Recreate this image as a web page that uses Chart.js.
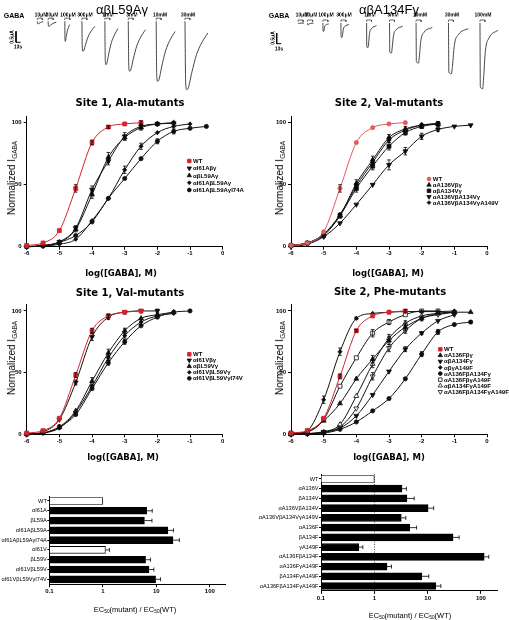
<!DOCTYPE html>
<html>
<head>
<meta charset="utf-8">
<script src="https://cdn.jsdelivr.net/npm/chart.js@4.4.0/dist/chart.umd.min.js"></script>
<style>
  body { margin: 0; background: #fff; width: 509px; height: 620px; position: relative; overflow: hidden;
         font-family: 'Liberation Sans', Arial, sans-serif; color: #000; }
  .box { position: absolute; }
  .t { position: absolute; white-space: nowrap; line-height: 1; transform: translate(-50%, -50%); will-change: transform; }
  .rot { transform: translate(-50%, -50%) rotate(-90deg); }
  .tiny { font-size: 10px; font-weight: bold; transform: translate(-50%, -50%) scale(0.5); }
  .tiny.rot { transform: translate(-50%, -50%) rotate(-90deg) scale(0.5); }
  .ttl { font-family: 'DejaVu Sans', sans-serif; font-weight: bold; }
  sub { font-size: 65%; vertical-align: -0.25em; line-height: 0; }
</style>
</head>
<body>
<script>
// ---- trace panels (oocyte recordings) ----
const concLeft = ['10μM', '30μM', '100μM', '300μM', '1mM', '3mM', '10mM', '30mM'];
const leftStart = [83, 107, 144, 182, 233, 285, 347, 411];      // s
const leftDur = [13, 18, 11, 29, 29, 38, 42, 51];               // s
const leftPeak = [-0.12, -0.23, -0.91, -1.36, -1.97, -2.27, -2.73, -3.11]; // μA

const concRight = ['10μM', '30μM', '100μM', '300μM', '1mM', '3mM', '10mM', '30mM', '100mM'];
const rightStart = [107, 128, 162, 202, 259, 310, 369, 441, 511];
const rightDur = [13, 13, 13, 18, 22, 29, 36, 44, 40];
const rightPeak = [-0.02, -0.08, -0.39, -0.67, -1.15, -1.40, -1.87, -2.37, -3.07];

// normalised current shape: [fraction of duration, fraction of peak]
const leftShape = [[0, 0], [0.03, 0.9], [0.08, 1], [0.15, 0.97], [0.29, 0.76], [0.5, 0.49], [0.72, 0.32], [1, 0.17]];
const rightShape = [[0, 0], [0.02, 0.97], [0.15, 1], [0.2, 0.85], [0.3, 0.43], [0.5, 0.23], [1, 0.11]];
const appDur = 11;                       // s, GABA application bar
const scaleBarT = 10, scaleBarI = 0.5;   // 10 s, 0.5 μA
const leftBarAt = [35.6, -0.955];
const rightBarAt = [59.3, -0.967];

// ---- concentration-response curves ----
const doseX = [-6, -5.5, -5, -4.5, -4, -3.5, -3, -2.5, -2, -1.5, -1, -0.5];
const doseTicks = [-6, -5, -4, -3, -2, -1, 0];
const normTicks = [0, 50, 100];

// Site 1, Ala-mutants
const ala1Names = ['WT', 'αI61Aβγ', 'αβL59Aγ', 'αI61AβL59Aγ', 'αI61AβL59AγI74A'];
const ala1WT = [1, 3, 13, 47, 84, 96.5, 99, 100];
const ala1WTErr = [0, 0, 0, 3, 2, 1, 0, 1.5];
const ala1I61A = [0, 1, 4, 15, 46, 69, 89, 97, 99, 99.5];
const ala1I61AErr = [0, 0, 0, 2, 3, 3, 3, 2, 1.5, 1.5];
const ala1L59A = [0, 1, 3.5, 14, 42, 72, 88, 96, 99, 100];
const ala1L59AErr = [0, 0, 0, 2, 3, 4, 2, 2, 1, 0];
const ala1Double = [0, 0.5, 2, 6, 21, 39, 62, 81, 92, 97, 99];
const ala1DoubleErr = [0, 0, 0, 0, 0, 0, 3, 2.5, 0, 0, 0];
const ala1Triple = [0, 0.5, 3.5, 9, 20, 39, 55, 71, 85, 93, 95.5, 97];
const ala1TripleErr = [0, 0, 0, 0, 0, 0, 0, 0, 2, 2, 0, 0];

// Site 2, Val-mutants
const val2Names = ['WT', 'αA136Vβγ', 'αβA134Vγ', 'αA136VβA134Vγ', 'αA136VβA134VγA149V'];
const val2WT = [1, 3, 12, 47, 84, 96, 99, 100];
const val2WTErr = [0, 0, 0, 3, 0, 0, 0, 0];
const val2A136V = [1, 3, 10, 25, 51, 70, 88, 95, 98, 99];
const val2A136VErr = [0, 0, 0, 0, 3, 3, 2.5, 2, 1.5, 1.5];
const val2A134V = [1, 3, 9, 25, 47, 65, 81, 92, 97, 99];
const val2A134VErr = [0, 0, 0, 2, 3, 3, 3, 2, 1.5, 2];
const val2Double = [0, 2, 8, 19, 34, 50, 66, 77, 89, 94.5, 97, 98];
const val2DoubleErr = [0, 0, 0, 0, 0, 0, 4, 3, 2.5, 1.5, 0, 0];
const val2Triple = [1, 3, 10, 26, 49, 68, 86, 94, 98, 99.5];
const val2TripleErr = [0, 0, 0, 0, 2, 2, 2, 0, 0, 0];

// Site 1, Val-mutants
const val1Names = ['WT', 'αI61Vβγ', 'αβL59Vγ', 'αI61VβL59Vγ', 'αI61VβL59VγI74V'];
const val1WT = [1, 3, 13, 48, 84, 96, 99, 100];
const val1WTErr = [0, 0, 0, 2, 2, 1.5, 0, 0];
const val1I61V = [0, 2, 12, 42, 79, 95, 99, 100, 100];
const val1I61VErr = [0, 0, 0, 2, 3, 2, 0, 0, 1.5];
const val1L59V = [0, 1, 6, 19, 43, 66, 84, 94, 97, 99];
const val1L59VErr = [0, 0, 0, 0, 3, 3, 2, 0, 0, 0];
const val1Double = [0, 1, 5, 18, 39, 62, 80, 91, 96, 98];
const val1DoubleErr = [0, 0, 0, 0, 0, 2, 2, 2, 0, 0];
const val1Triple = [0, 1, 6, 16, 37, 58, 75, 88, 95, 99, 100];
const val1TripleErr = [0, 0, 1.5, 0, 0, 2, 2, 0, 0, 0, 0];

// Site 2, Phe-mutants
const phe2Names = ['WT', 'αA136Fβγ', 'αβA134Fγ', 'αβγA149F', 'αA136FβA134Fγ', 'αA136FβγA149F', 'αβA134FγA149F', 'αA136FβA134FγA149F'];
const phe2WT = [1, 3, 13, 47, 84, 96, 99, 100];
const phe2WTErr = [0, 0, 0, 2, 1, 0, 0, 1];
const phe2A136F = [0, 2, 11, 25, 45, 61, 76, 87, 94, 98, 99, 99];
const phe2A136FErr = [0, 0, 0, 0, 0, 3, 3, 3, 2, 0, 0, 0];
const phe2A134F = [0, 0.5, 2, 5, 15, 32, 51, 69, 82, 92, 97];
const phe2A134FErr = [0, 0, 0, 0, 0, 0, 0, 2, 1, 0, 0];
const phe2A149F = [0, 3, 28, 67, 94, 98, 99, 99.5, 99.5, 99.5, 100];
const phe2A149FErr = [0, 0, 3, 3, 1, 0, 0, 0, 0, 0, 0];
const phe2Double = [0, 0.5, 1, 4, 10, 19, 29, 45, 65, 83, 89, 91];
const phe2DoubleErr = [0, 0, 0, 0, 0, 0, 0, 0, 2, 2, 0, 1];
const phe2A136FA149F = [1, 2, 12, 39, 62, 82, 91, 97, 100, 100];
const phe2A136FA149FErr = [0, 0, 0, 0, 0, 3, 2, 0, 0, 0];
const phe2A134FA149F = [0, 0.5, 2, 8, 31, 57, 78, 90, 96, 98, 99];
const phe2A134FA149FErr = [0, 0, 0, 0, 0, 3, 3, 2, 0, 0, 0];
const phe2Triple = [0, 0.5, 1.5, 6, 21, 47, 70, 84, 94, 97, 99];
const phe2TripleErr = [0, 0, 0, 0, 0, 3, 3, 2, 0, 0, 0];

// ---- EC50 ratio bars ----
const barTicks = [0.1, 1, 10, 100];
const site1Labels = ['WT', 'αI61A', 'βL59A', 'αI61AβL59A', 'αI61AβL59AγI74A', 'αI61V', 'βL59V', 'αI61VβL59V', 'αI61VβL59VγI74V'];
const site1Ratio = [1, 6.6, 6.0, 16.5, 20.5, 1.12, 6.3, 7.3, 9.7];
const site1ErrHigh = [0, 8.4, 8.3, 21, 27, 1.33, 7.8, 9.0, 12];
const site2Labels = ['WT', 'αA136V', 'βA134V', 'αA136VβA134V', 'αA136VβA134VγA149V', 'αA136F', 'βA134F', 'γA149F',
                     'αA136FβA134F', 'αA136FγA149F', 'βA134FγA149F', 'αA136FβA134FγA149F'];
const site2Ratio = [1, 3.3, 4.1, 10.2, 3.2, 4.6, 30, 0.51, 115, 1.73, 7.8, 14.2];
const site2ErrHigh = [0, 4.0, 5.6, 13, 3.9, 6.2, 39, 0.61, 140, 2.1, 10.5, 17.7];

// ---------------------------------------------------------------
const RED = '#d3232b', RED2 = '#e35b5b', INK = '#111';
const FONT = "'Liberation Sans', Arial, sans-serif";
Chart.defaults.font.family = FONT;
Chart.defaults.color = '#000';
Chart.defaults.animation = false;

function mount(box) {
  const d = document.createElement('div');
  d.className = 'box';
  d.style.left = box[0] + 'px'; d.style.top = box[1] + 'px';
  const c = document.createElement('canvas');
  c.width = box[2]; c.height = box[3];
  d.appendChild(c);
  document.body.appendChild(d);
  return c;
}

function txt(html, x, y, style, cls) {
  const d = document.createElement('div');
  d.className = 't' + (cls ? ' ' + cls : '');
  d.style.left = x + 'px'; d.style.top = y + 'px';
  d.style.cssText += style || '';
  d.innerHTML = html;
  document.body.appendChild(d);
}

function marker(ctx, style, rot, r, x, y, fill, stroke) {
  ctx.save();
  ctx.translate(x, y);
  ctx.rotate((rot || 0) * Math.PI / 180);
  ctx.beginPath();
  if (style === 'circle') ctx.arc(0, 0, r, 0, Math.PI * 2);
  else if (style === 'rect') { const s = r * Math.SQRT1_2; ctx.rect(-s, -s, 2 * s, 2 * s); }
  else if (style === 'rectRot') { ctx.moveTo(0, -r); ctx.lineTo(r, 0); ctx.lineTo(0, r); ctx.lineTo(-r, 0); ctx.closePath(); }
  else { ctx.moveTo(0, -r); ctx.lineTo(r * 0.866, r * 0.5); ctx.lineTo(-r * 0.866, r * 0.5); ctx.closePath(); }
  ctx.fillStyle = fill; ctx.fill();
  ctx.lineWidth = 0.8; ctx.strokeStyle = stroke; ctx.stroke();
  ctx.restore();
}

const doseErrors = {
  id: 'doseErrors',
  afterDatasetsDraw(chart) {
    const { ctx, scales: { x, y } } = chart;
    ctx.save();
    ctx.strokeStyle = '#000'; ctx.lineWidth = 0.8;
    chart.data.datasets.forEach(ds => {
      ds.data.forEach(p => {
        if (!p.e) return;
        const px = x.getPixelForValue(p.x);
        const y1 = y.getPixelForValue(p.y + p.e), y2 = y.getPixelForValue(p.y - p.e);
        ctx.beginPath();
        ctx.moveTo(px, y1); ctx.lineTo(px, y2);
        ctx.moveTo(px - 1.8, y1); ctx.lineTo(px + 1.8, y1);
        ctx.moveTo(px - 1.8, y2); ctx.lineTo(px + 1.8, y2);
        ctx.stroke();
      });
    });
    ctx.restore();
  }
};

const prismLegend = {
  id: 'prismLegend',
  afterDraw(chart, args, opts) {
    if (opts.dx === undefined) return;
    const { ctx, chartArea } = chart;
    ctx.save();
    ctx.font = 'bold 6px ' + FONT;
    ctx.textBaseline = 'middle';
    chart.data.datasets.forEach((ds, i) => {
      const x = chartArea.left + opts.dx, y = chartArea.top + opts.dy + i * opts.gap;
      marker(ctx, ds.pointStyle, ds.pointRotation, ds.pointRadius * 0.9, x, y, ds.pointBackgroundColor, ds.pointBorderColor);
      ctx.fillStyle = '#000';
      ctx.fillText(ds.label, x + 3.8, y + 0.4);
    });
    ctx.restore();
  }
};

const barErrors = {
  id: 'barErrors',
  afterDatasetsDraw(chart) {
    const { ctx, scales: { x, y } } = chart;
    const ds = chart.data.datasets[0];
    ctx.save();
    ctx.strokeStyle = '#000'; ctx.lineWidth = 0.8;
    ds.data.forEach((v, i) => {
      const e = ds.errHigh[i];
      if (!e) return;
      const yy = y.getPixelForValue(i), x1 = x.getPixelForValue(v), x2 = x.getPixelForValue(e);
      ctx.beginPath();
      ctx.moveTo(x1, yy); ctx.lineTo(x2, yy);
      ctx.moveTo(x2, yy - 2); ctx.lineTo(x2, yy + 2);
      ctx.stroke();
    });
    ctx.restore();
  }
};

const refLine = {
  id: 'refLine',
  beforeDatasetsDraw(chart, args, opts) {
    if (opts.value === undefined) return;
    const { ctx, chartArea, scales: { x } } = chart;
    const px = Math.round(x.getPixelForValue(opts.value)) + 0.5;
    ctx.save();
    ctx.strokeStyle = '#444'; ctx.lineWidth = 1; ctx.setLineDash([1, 1.5]);
    ctx.beginPath(); ctx.moveTo(px, chartArea.top); ctx.lineTo(px, chartArea.bottom); ctx.stroke();
    ctx.restore();
  }
};

// box = [left, top, width, height], area = [left, top, right, bottom] (page px)
function frame(box, area) {
  return {
    yW: area[0] - box[0],
    xH: box[1] + box[3] - area[3],
    pad: { top: area[1] - box[1], right: box[0] + box[2] - area[2], left: 0, bottom: 0 }
  };
}

const axisGrid = { drawOnChartArea: false, drawTicks: true, tickLength: 3, color: '#000', lineWidth: 1 };
const axisBorder = { display: true, color: '#000', width: 1 };

// ---- trace charts ----
function traceSets(starts, durs, peaks, shape, bar) {
  const sets = starts.map((s, i) => ({
    data: shape.map(([f, a]) => ({ x: s + f * durs[i], y: a * peaks[i] })),
    borderColor: '#333', borderWidth: 0.9, pointRadius: 0, cubicInterpolationMode: 'monotone'
  }));
  starts.forEach(s => sets.push({
    data: [{ x: s, y: 0.06 }, { x: s, y: 0.14 }, { x: s + appDur, y: 0.14 }, { x: s + appDur, y: 0.06 }],
    borderColor: '#444', borderWidth: 0.8, pointRadius: 0, tension: 0
  }));
  sets.push({
    data: [{ x: bar[0], y: bar[1] + scaleBarI }, { x: bar[0], y: bar[1] }, { x: bar[0] + scaleBarT, y: bar[1] }],
    borderColor: '#000', borderWidth: 1, pointRadius: 0, tension: 0
  });
  return sets;
}

function traceChart(box, xMax, yMin, yMax, datasets) {
  return new Chart(mount(box), {
    type: 'line',
    data: { datasets },
    options: {
      responsive: false, animation: false,
      layout: { padding: 0 },
      plugins: { legend: { display: false }, tooltip: { enabled: false } },
      scales: {
        x: { type: 'linear', min: 0, max: xMax, display: false },
        y: { type: 'linear', min: yMin, max: yMax, display: false }
      }
    }
  });
}

const leftBox = [0, 0, 250, 95], rightBox = [250, 0, 259, 95];
const tl = traceChart(leftBox, 555.5, -3.35, 0.968, traceSets(leftStart, leftDur, leftPeak, leftShape, leftBarAt));
const tr = traceChart(rightBox, 575.5, -3.364, 1.075, traceSets(rightStart, rightDur, rightPeak, rightShape, rightBarAt));

// ---- dose-response charts ----
function series(names, styles, ysList, errList) {
  return ysList.map((ys, k) => {
    const st = styles[k];
    const data = [];
    ys.forEach((v, i) => { if (v !== null) data.push({ x: doseX[i], y: v, e: errList[k][i] }); });
    const r = { rect: 2.8, circle: 2.1, triangle: 2.8, rectRot: 2.1 }[st.shape];
    return {
      label: names[k], data,
      showLine: true, borderColor: st.line, borderWidth: 1, cubicInterpolationMode: 'monotone', fill: false,
      pointStyle: st.shape, pointRotation: st.rot || 0, pointRadius: r,
      pointBackgroundColor: st.fill, pointBorderColor: st.edge, pointBorderWidth: 0.8,
      clip: false
    };
  });
}

function doseChart(box, area, datasets, legend) {
  const f = frame(box, area);
  return new Chart(mount(box), {
    type: 'line',
    data: { datasets },
    options: {
      responsive: false, animation: false,
      layout: { padding: f.pad },
      plugins: { legend: { display: false }, tooltip: { enabled: false }, prismLegend: legend },
      scales: {
        x: {
          type: 'linear', min: -6, max: 0,
          afterBuildTicks: s => { s.ticks = doseTicks.map(v => ({ value: v })); },
          afterFit: s => { s.height = f.xH; },
          grid: axisGrid, border: axisBorder,
          ticks: { font: { size: 6, weight: 'bold' }, padding: 0.5, maxRotation: 0, color: '#000' }
        },
        y: {
          type: 'linear', min: 0, max: 105,
          afterBuildTicks: s => { s.ticks = normTicks.map(v => ({ value: v })); },
          afterFit: s => { s.width = f.yW; },
          grid: axisGrid, border: axisBorder,
          ticks: { font: { size: 6, weight: 'bold' }, padding: 2, color: '#000' }
        }
      }
    },
    plugins: [doseErrors, prismLegend]
  });
}

const S = {
  wtRect: { shape: 'rect', fill: RED, edge: RED, line: RED },
  wtCirc: { shape: 'circle', fill: RED2, edge: RED2, line: RED2 },
  down: { shape: 'triangle', rot: 180, fill: INK, edge: INK, line: INK },
  up: { shape: 'triangle', fill: INK, edge: INK, line: INK },
  dia: { shape: 'rectRot', fill: INK, edge: INK, line: INK },
  circ: { shape: 'circle', fill: INK, edge: INK, line: INK },
  sq: { shape: 'rect', fill: INK, edge: INK, line: INK },
  oSq: { shape: 'rect', fill: '#fff', edge: INK, line: INK },
  oUp: { shape: 'triangle', fill: '#fff', edge: INK, line: INK },
  oDown: { shape: 'triangle', rot: 180, fill: '#fff', edge: INK, line: INK }
};

doseChart([4, 108, 246, 152], [26.7, 116.5, 222.7, 246.7],
  series(ala1Names, [S.wtRect, S.down, S.up, S.dia, S.circ],
    [ala1WT, ala1I61A, ala1L59A, ala1Double, ala1Triple],
    [ala1WTErr, ala1I61AErr, ala1L59AErr, ala1DoubleErr, ala1TripleErr]),
  { dx: 162.6, dy: 44.5, gap: 7.25 });

doseChart([262, 108, 247, 152], [291, 116.5, 487, 246.7],
  series(val2Names, [S.wtCirc, S.up, S.sq, S.down, S.dia],
    [val2WT, val2A136V, val2A134V, val2Double, val2Triple],
    [val2WTErr, val2A136VErr, val2A134VErr, val2DoubleErr, val2TripleErr]),
  { dx: 138, dy: 62.5, gap: 5.9 });

doseChart([4, 296, 246, 152], [26.7, 304.8, 222.7, 434.3],
  series(val1Names, [S.wtRect, S.down, S.up, S.dia, S.circ],
    [val1WT, val1I61V, val1L59V, val1Double, val1Triple],
    [val1WTErr, val1I61VErr, val1L59VErr, val1DoubleErr, val1TripleErr]),
  { dx: 162.6, dy: 49.5, gap: 6 });

doseChart([262, 296, 247, 152], [291, 304.8, 487, 434.3],
  series(phe2Names, [S.wtRect, S.up, S.down, S.dia, S.circ, S.oSq, S.oUp, S.oDown],
    [phe2WT, phe2A136F, phe2A134F, phe2A149F, phe2Double, phe2A136FA149F, phe2A134FA149F, phe2Triple],
    [phe2WTErr, phe2A136FErr, phe2A134FErr, phe2A149FErr, phe2DoubleErr, phe2A136FA149FErr, phe2A134FA149FErr, phe2TripleErr]),
  { dx: 149.3, dy: 44.5, gap: 6.07 });

// ---- bar charts ----
function barChart(box, area, labels, values, errHigh, whiteRows, ref) {
  const f = frame(box, area);
  return new Chart(mount(box), {
    type: 'bar',
    data: {
      labels,
      datasets: [{
        data: values, errHigh,
        backgroundColor: labels.map(l => whiteRows.includes(l) ? '#fff' : '#000'),
        borderColor: '#000', borderWidth: 0.9, borderSkipped: false, barThickness: 7
      }]
    },
    options: {
      indexAxis: 'y',
      responsive: false, animation: false,
      layout: { padding: f.pad },
      plugins: { legend: { display: false }, tooltip: { enabled: false }, refLine: ref },
      scales: {
        x: {
          type: 'logarithmic', min: 0.1, max: 200,
          afterBuildTicks: s => { s.ticks = barTicks.map(v => ({ value: v })); },
          afterFit: s => { s.height = f.xH; },
          grid: axisGrid, border: axisBorder,
          ticks: { font: { size: 6, weight: 'bold' }, padding: 1, maxRotation: 0, color: '#000', callback: v => String(v) }
        },
        y: {
          type: 'category',
          afterFit: s => { s.width = f.yW; },
          grid: { drawOnChartArea: false, drawTicks: true, tickLength: 2, color: '#000', offset: false },
          border: axisBorder,
          ticks: { font: { size: 5.6 }, padding: 0.5, autoSkip: false, color: '#000' }
        }
      }
    },
    plugins: [refLine, barErrors]
  });
}

barChart([0, 490, 250, 108], [49.3, 496.1, 225.9, 584.2], site1Labels, site1Ratio, site1ErrHigh, ['WT', 'αI61V'], {});
barChart([250, 468, 259, 138], [321, 474.1, 497, 590.9], site2Labels, site2Ratio, site2ErrHigh, ['WT'], { value: 1 });

// ---- text ----
txt('αβL59Aγ', 122, 9, 'font-size:13px;');
txt('αβA134Fγ', 389, 9, 'font-size:13px;');
txt('GABA', 14, 15.3, 'font-size:7px;font-weight:bold;');
txt('GABA', 279, 15, 'font-size:7px;font-weight:bold;');

concLeft.forEach((c, i) => txt(c, leftBox[0] + tl.scales.x.getPixelForValue(leftStart[i]) + 3.5, 15.3, '', 'tiny'));
concRight.forEach((c, i) => txt(c, rightBox[0] + tr.scales.x.getPixelForValue(rightStart[i]) + 3.5, 14.7, '', 'tiny'));

function barLabels(chart, box, at) {
  const x = chart.scales.x, y = chart.scales.y;
  const px = box[0] + x.getPixelForValue(at[0]);
  txt('0.5μA', px - 4, box[1] + y.getPixelForValue(at[1] + scaleBarI / 2), '', 'tiny rot');
  txt('10s', box[0] + x.getPixelForValue(at[0] + scaleBarT / 2), box[1] + y.getPixelForValue(at[1]) + 5, '', 'tiny');
}
barLabels(tl, leftBox, leftBarAt);
barLabels(tr, rightBox, rightBarAt);

txt('Site 1, Ala-mutants', 130, 103, 'font-size:10px;', 'ttl');
txt('Site 2, Val-mutants', 389, 103, 'font-size:10px;', 'ttl');
txt('Site 1, Val-mutants', 130, 292.5, 'font-size:10px;', 'ttl');
txt('Site 2, Phe-mutants', 390, 291.7, 'font-size:10px;', 'ttl');

const yTitle = 'Normalized I<sub>GABA</sub>';
[[12, 178], [280, 178], [12.3, 358], [280, 358]].forEach(p => txt(yTitle, p[0], p[1], 'font-size:10px;', 'rot'));
const xTitle = 'log([GABA], M)';
[[121, 273], [388, 273], [123, 457], [389, 457]].forEach(p => txt(xTitle, p[0], p[1], 'font-size:8.5px;', 'ttl'));
txt('EC<sub>50</sub>(mutant) / EC<sub>50</sub>(WT)', 135, 610, 'font-size:7.5px;');
txt('EC<sub>50</sub>(mutant) / EC<sub>50</sub>(WT)', 410, 616, 'font-size:7.5px;');
</script>
</body>
</html>
